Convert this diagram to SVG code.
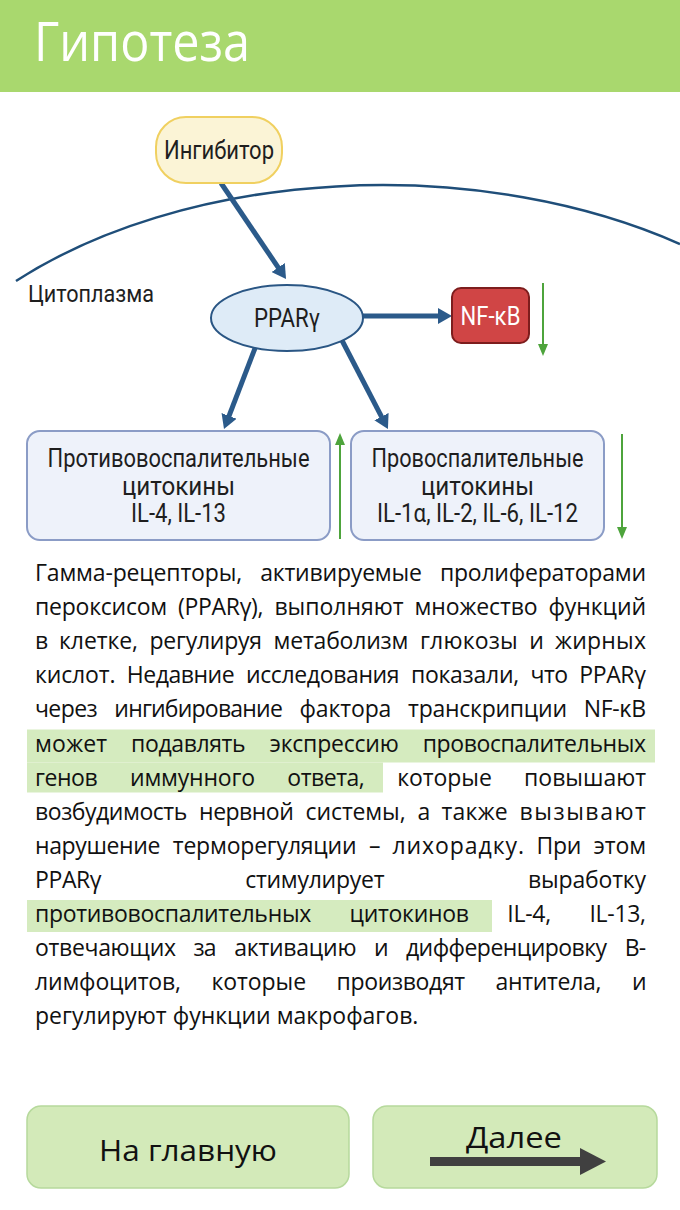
<svg xmlns="http://www.w3.org/2000/svg" width="680" height="1210" viewBox="0 0 680 1210">
<style>
.d{font-family:Roboto,"Open Sans",sans-serif;fill:#1e1e1e;text-anchor:middle}
.b{font-family:"Open Sans","Noto Sans",sans-serif;font-size:23px;fill:#111}
.hl{fill:#d5ebbf}
.blue{stroke:#2b5a8a;stroke-width:5;fill:none}
.green{stroke:#4ea43c;stroke-width:2;fill:none}
.btn{fill:#d3eab9;stroke:#b6d99c;stroke-width:1.5}
.box{fill:#eef2fa;stroke:#8b9cc6;stroke-width:2}
.bt{font-family:"Open Sans",sans-serif;font-size:30px;fill:#111;text-anchor:middle}
</style>
<defs>
<marker id="ab" markerUnits="userSpaceOnUse" viewBox="0 0 14 16" markerWidth="14" markerHeight="16" refX="2" refY="8" orient="auto">
<path d="M0,0 L14,8 L0,16 z" fill="#2b5a8a"/>
</marker>
<marker id="ag" markerUnits="userSpaceOnUse" viewBox="0 0 12 10" markerWidth="12" markerHeight="10" refX="1" refY="5" orient="auto">
<path d="M0,0 L12,5 L0,10 z" fill="#4ea43c"/>
</marker>
</defs>

<rect x="0" y="0" width="680" height="92" fill="#a9d86e"/>
<text x="34" y="61" font-family="'Open Sans',sans-serif" font-size="54" fill="#ffffff" textLength="216" lengthAdjust="spacingAndGlyphs">Гипотеза</text>

<path d="M16,281 A500,300 0 0 1 680,244" fill="none" stroke="#1f4e79" stroke-width="2.5"/>
<text x="28" y="302" class="d" style="text-anchor:start" font-size="23" textLength="126" lengthAdjust="spacingAndGlyphs">Цитоплазма</text>

<g id="connectors">
<line class="blue" x1="221" y1="183" x2="279.3" y2="269.1" marker-end="url(#ab)"/>
<line class="blue" x1="350" y1="316" x2="440" y2="316" marker-end="url(#ab)"/>
<line class="blue" x1="262" y1="330" x2="228.3" y2="417.8" marker-end="url(#ab)"/>
<line class="blue" x1="334" y1="325" x2="382.4" y2="418.4" marker-end="url(#ab)"/>
<line class="green" x1="543" y1="283" x2="543" y2="345" marker-end="url(#ag)"/>
<line class="green" x1="340" y1="539" x2="340" y2="444" marker-end="url(#ag)"/>
<line class="green" x1="622" y1="434" x2="622" y2="528" marker-end="url(#ag)"/>
</g>

<g id="inhibitor">
<rect x="156" y="117" width="126" height="66" rx="30" fill="#fbf4d6" stroke="#f0d060" stroke-width="2"/>
<text x="219" y="159" class="d" font-size="26" textLength="110" lengthAdjust="spacingAndGlyphs">Ингибитор</text>
</g>

<g id="ppar">
<ellipse cx="287" cy="318" rx="76" ry="33" fill="#deebf7" stroke="#2a5684" stroke-width="2"/>
<text x="287" y="327" class="d" font-size="26" textLength="66" lengthAdjust="spacingAndGlyphs">PPARγ</text>
</g>

<g id="nfkb">
<rect x="452" y="288" width="77" height="55" rx="9" fill="#d04545" stroke="#7d1d1d" stroke-width="2"/>
<text x="490.5" y="325" class="d" font-size="26" style="fill:#ffffff" textLength="60" lengthAdjust="spacingAndGlyphs">NF-κB</text>
</g>

<g id="anti">
<rect class="box" x="27" y="431" width="303" height="109" rx="13"/>
<text x="178.5" y="467" class="d" font-size="25" textLength="262" lengthAdjust="spacingAndGlyphs">Противовоспалительные</text>
<text x="178.5" y="495" class="d" font-size="25" textLength="113" lengthAdjust="spacingAndGlyphs">цитокины</text>
<text x="178.5" y="522" class="d" font-size="25" textLength="95" lengthAdjust="spacingAndGlyphs">IL-4, IL-13</text>
</g>

<g id="pro">
<rect class="box" x="351" y="431" width="253" height="109" rx="13"/>
<text x="477.5" y="467" class="d" font-size="25" textLength="212" lengthAdjust="spacingAndGlyphs">Провоспалительные</text>
<text x="477.5" y="495" class="d" font-size="25" textLength="113" lengthAdjust="spacingAndGlyphs">цитокины</text>
<text x="477.5" y="522" class="d" font-size="25" textLength="201" lengthAdjust="spacingAndGlyphs">IL-1α, IL-2, IL-6, IL-12</text>
</g>

<g id="body">
<rect class="hl" x="27" y="729.5" width="628" height="33"/>
<rect class="hl" x="27" y="762.5" width="356" height="30"/>
<rect class="hl" x="27" y="900" width="465" height="32"/>

<text class="b" x="35" y="581" textLength="207.1">Гамма-рецепторы,</text>
<text class="b" x="260.2" y="581" textLength="161.7">активируемые</text>
<text class="b" x="439.9" y="581" textLength="206.1">пролифераторами</text>

<text class="b" x="35" y="615.1" textLength="132.2">пероксисом</text>
<text class="b" x="178.1" y="615.1" textLength="85.4">(PPARγ),</text>
<text class="b" x="274.4" y="615.1" textLength="129.3">выполняют</text>
<text class="b" x="414.6" y="615.1" textLength="123">множество</text>
<text class="b" x="548.5" y="615.1" textLength="97.6">функций</text>

<text class="b" x="35" y="649.2">в</text>
<text class="b" x="59.1" y="649.2" textLength="78.8">клетке,</text>
<text class="b" x="149.5" y="649.2" textLength="112.5">регулируя</text>
<text class="b" x="273.6" y="649.2" textLength="134.8">метаболизм</text>
<text class="b" x="420" y="649.2" textLength="97.7">глюкозы</text>
<text class="b" x="529.3" y="649.2">и</text>
<text class="b" x="555.1" y="649.2" textLength="90.9">жирных</text>

<text class="b" x="35" y="683.3" textLength="80.5">кислот.</text>
<text class="b" x="126.8" y="683.3" textLength="107.8">Недавние</text>
<text class="b" x="245.9" y="683.3" textLength="153.7">исследования</text>
<text class="b" x="410.9" y="683.3" textLength="108.3">показали,</text>
<text class="b" x="530.5" y="683.3" textLength="37.5">что</text>
<text class="b" x="579.3" y="683.3" textLength="66.6">PPARγ</text>

<text class="b" x="35" y="717.4" textLength="62.6">через</text>
<text class="b" x="114.3" y="717.4" textLength="168.5">ингибирование</text>
<text class="b" x="299.5" y="717.4" textLength="91.9">фактора</text>
<text class="b" x="408.1" y="717.4" textLength="158.9">транскрипции</text>
<text class="b" x="583.7" y="717.4" textLength="62.3">NF-κB</text>

<text class="b" x="35" y="751.5" textLength="72.2">может</text>
<text class="b" x="131.1" y="751.5" textLength="114.5">подавлять</text>
<text class="b" x="269.5" y="751.5" textLength="129.3">экспрессию</text>
<text class="b" x="422.7" y="751.5" textLength="223.3">провоспалительных</text>

<text class="b" x="35" y="785.6" textLength="62.6">генов</text>
<text class="b" x="130" y="785.6" textLength="125">иммунного</text>
<text class="b" x="287.3" y="785.6" textLength="77.5">ответа,</text>
<text class="b" x="397.2" y="785.6" textLength="94.6">которые</text>
<text class="b" x="524.1" y="785.6" textLength="121.9">повышают</text>

<text class="b" x="35" y="819.7" textLength="152.3">возбудимость</text>
<text class="b" x="199.1" y="819.7" textLength="94.7">нервной</text>
<text class="b" x="305.6" y="819.7" textLength="100">системы,</text>
<text class="b" x="417.4" y="819.7">а</text>
<text class="b" x="441.5" y="819.7" textLength="66.2">также</text>
<text class="b" x="519.5" y="819.7" textLength="126.4">вызывают</text>

<text class="b" x="35" y="853.8" textLength="125.4">нарушение</text>
<text class="b" x="172.8" y="853.8" textLength="183.8">терморегуляции</text>
<text class="b" x="369" y="853.8">–</text>
<text class="b" x="392.4" y="853.8" textLength="131.7">лихорадку.</text>
<text class="b" x="536.5" y="853.8" textLength="44.8">При</text>
<text class="b" x="593.6" y="853.8" textLength="52.4">этом</text>

<text class="b" x="35" y="887.9" textLength="66.6">PPARγ</text>
<text class="b" x="245.2" y="887.9" textLength="139.3">стимулирует</text>
<text class="b" x="528" y="887.9" textLength="118">выработку</text>

<text class="b" x="35" y="922" textLength="276.3">противовоспалительных</text>
<text class="b" x="349.6" y="922" textLength="119.4">цитокинов</text>
<text class="b" x="507.3" y="922" textLength="43.8">IL-4,</text>
<text class="b" x="589.5" y="922" textLength="56.5">IL-13,</text>

<text class="b" x="35" y="956.1" textLength="141">отвечающих</text>
<text class="b" x="193.6" y="956.1" textLength="23">за</text>
<text class="b" x="234.2" y="956.1" textLength="122.3">активацию</text>
<text class="b" x="374.1" y="956.1">и</text>
<text class="b" x="405.9" y="956.1" textLength="201.2">дифференцировку</text>
<text class="b" x="624.7" y="956.1" textLength="21.4">В-</text>

<text class="b" x="35" y="990.2" textLength="146">лимфоцитов,</text>
<text class="b" x="211.5" y="990.2" textLength="94.6">которые</text>
<text class="b" x="336.6" y="990.2" textLength="128.5">производят</text>
<text class="b" x="495.6" y="990.2" textLength="105.8">антитела,</text>
<text class="b" x="631.9" y="990.2">и</text>

<text class="b" x="35" y="1024.3">регулируют функции макрофагов.</text>
</g>

<g id="home">
<rect class="btn" x="27" y="1106" width="322" height="82" rx="14"/>
<text x="188" y="1161" class="bt" textLength="178" lengthAdjust="spacingAndGlyphs">На главную</text>
</g>

<g id="next">
<rect class="btn" x="373" y="1106" width="284" height="82" rx="14"/>
<text x="514" y="1148" class="bt" textLength="96" lengthAdjust="spacingAndGlyphs">Далее</text>
<rect x="430" y="1157" width="152" height="9" fill="#404040"/>
<polygon points="580,1148 606,1161.5 580,1175" fill="#404040"/>
</g>
</svg>
